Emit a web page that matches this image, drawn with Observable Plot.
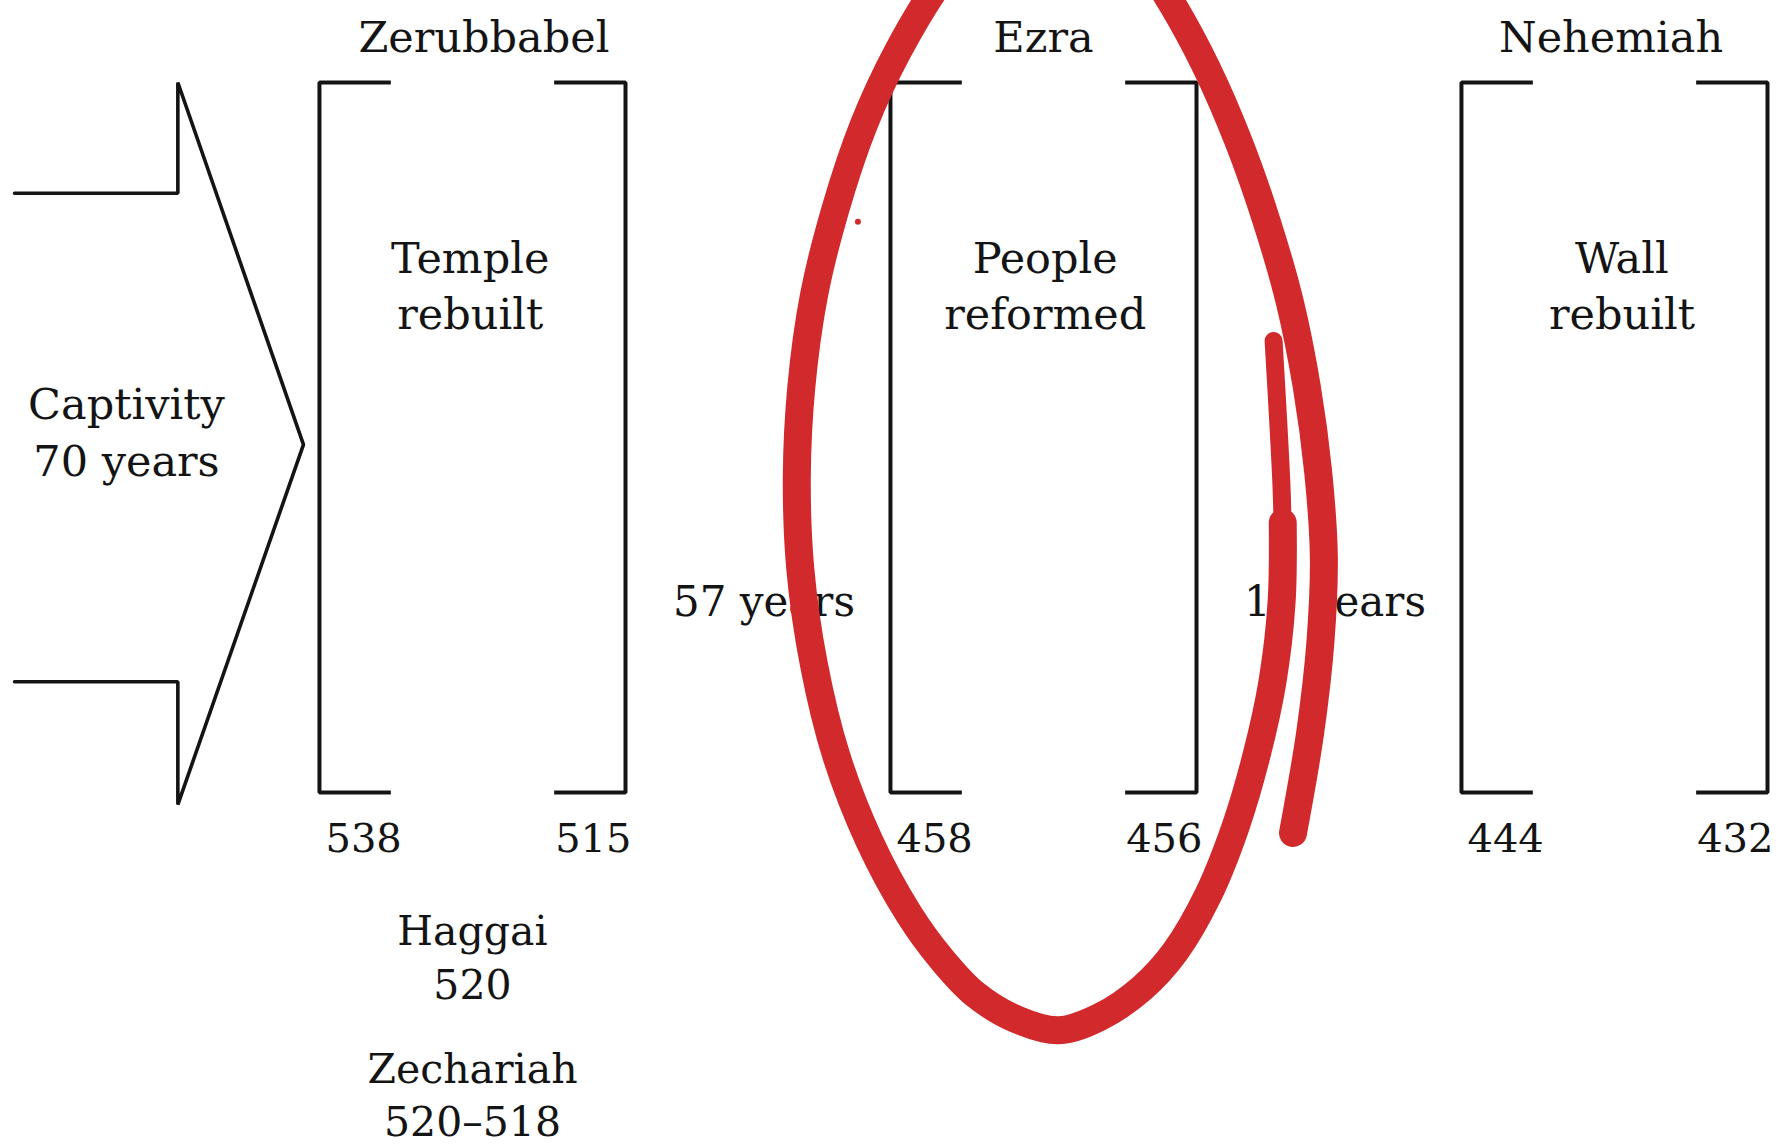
<!DOCTYPE html>
<html><head><meta charset="utf-8">
<script src="https://cdn.jsdelivr.net/npm/d3@7"></script>
<script src="https://cdn.jsdelivr.net/npm/@observablehq/plot@0.6"></script>
<style>html,body{margin:0;padding:0;background:#fff} svg{display:block}</style>
</head><body><div id="chart"></div>
<script>
// ---- data ----
const leaders = ["Zerubbabel", "Ezra", "Nehemiah"];
const works = ["Temple\nrebuilt", "People\nreformed", "Wall\nrebuilt"];
const startYears = [538, 458, 444];
const endYears = [515, 456, 432];
const captivityLabel = "Captivity\n70 years";
const prophets = ["Haggai\n520", "Zechariah\n520–518"];
const prophetSlot = [0, 0];
// hand-drawn red loop around Ezra (slot units)
const loopX = [1.419,1.417,1.401,1.373,1.336,1.288,1.230,1.172,1.099,1.027,0.954,0.880,0.820,0.765,0.695,0.637,0.598,0.574,0.568,0.576,0.598,0.635,0.685,0.745,0.824,0.934,1.063,1.162,1.222,1.286,1.342,1.391,1.431,1.461,1.481,1.491,1.485,1.467,1.437];
const loopY = [0.380,0.268,0.156,0.052,-0.049,-0.145,-0.225,-0.276,-0.316,-0.335,-0.320,-0.284,-0.233,-0.172,-0.068,0.052,0.180,0.316,0.444,0.572,0.700,0.820,0.940,1.044,1.148,1.251,1.267,1.187,1.115,1.020,0.916,0.804,0.692,0.572,0.452,0.332,0.212,0.084,-0.057];
// faint, thinner start of the loop's inner stroke
const loopStartX = [1.403, 1.411, 1.417, 1.419];
const loopStartY = [0.636, 0.524, 0.428, 0.364];
const speck = [{x: 0.675, y: 0.804}];

// ---- layout (styles / positions) ----
const HW = 0.268, SERIF = 0.125;
const ROW = {leader: 1.063, work: 0.717, year: -0.066, gap: 0.268, capt: 0.512};
const prophetRow = [-0.229, -0.422];
const leaderShift = [0.02, 0, -0.006];
const workShift = [-0.004, 0.003, 0.013];
const FONT = "DejaVu Serif";
const INK = "#141414", RED = "#d22a2c";

const periods = leaders.map((leader, i) => ({leader, work: works[i], start: startYears[i], end: endYears[i], slot: i}));
const gaps = periods.slice(1).map((p, i) => ({slot: i + 0.5, label: `${periods[i].end - p.start} years`}));

const brackets = periods.flatMap(p => {
  const l = p.slot - HW, r = p.slot + HW;
  return [
    {k: p.slot + "L", x: l + SERIF, y: 1}, {k: p.slot + "L", x: l, y: 1}, {k: p.slot + "L", x: l, y: 0}, {k: p.slot + "L", x: l + SERIF, y: 0},
    {k: p.slot + "R", x: r - SERIF, y: 1}, {k: p.slot + "R", x: r, y: 1}, {k: p.slot + "R", x: r, y: 0}, {k: p.slot + "R", x: r - SERIF, y: 0}
  ];
});

// captivity arrow
const AX0 = -0.802, AX1 = -0.516, ATIP = -0.296;
const arrow = [
  {x: AX0, y: 0.844}, {x: AX1, y: 0.844}, {x: AX1, y: 1.0}, {x: ATIP, y: 0.49},
  {x: AX1, y: -0.017}, {x: AX1, y: 0.156}, {x: AX0, y: 0.156}
];
const loop = loopX.map((x, i) => ({x, y: loopY[i]}));
const loopStart = loopStartX.map((x, i) => ({x, y: loopStartY[i]}));

const chart = Plot.plot({
  width: 1781, height: 1146,
  margin: 0,
  x: {domain: [-0.8266, 2.2925], axis: null},
  y: {domain: [-0.4986, 1.1155], axis: null},
  marks: [
    Plot.line(arrow, {x: "x", y: "y", stroke: INK, strokeWidth: 3.6, strokeLinejoin: "miter"}),
    Plot.line(brackets, {x: "x", y: "y", z: "k", stroke: INK, strokeWidth: 4, strokeLinejoin: "miter", strokeLinecap: "butt"}),
    Plot.text(periods, {x: (d, i) => d.slot + leaderShift[i], y: () => ROW.leader, text: "leader", fontFamily: FONT, fontSize: 43, fill: INK}),
    Plot.text(periods, {x: (d, i) => d.slot + workShift[i], y: () => ROW.work, text: "work", fontFamily: FONT, fontSize: 43, lineHeight: 1.3, fill: INK}),
    Plot.text(periods, {x: d => d.slot - HW, y: () => ROW.year, text: d => String(d.start), textAnchor: "start", dx: 6, fontFamily: FONT, fontSize: 40, fill: INK}),
    Plot.text(periods, {x: d => d.slot + HW, y: () => ROW.year, text: d => String(d.end), textAnchor: "end", dx: 6, fontFamily: FONT, fontSize: 40, fill: INK}),
    Plot.text(gaps, {x: "slot", y: () => ROW.gap, text: "label", dx: 6, fontFamily: FONT, fontSize: 42, fill: INK}),
    Plot.text([captivityLabel], {x: () => -0.606, y: () => ROW.capt, text: d => d, fontFamily: FONT, fontSize: 43, lineHeight: 1.32, fill: INK}),
    Plot.text(prophets, {x: (d, i) => prophetSlot[i], y: (d, i) => prophetRow[i], text: d => d, fontFamily: FONT, fontSize: 41, lineHeight: 1.3, fill: INK}),
    Plot.line(loopStart, {x: "x", y: "y", curve: "catmull-rom", stroke: RED, strokeWidth: 18, strokeLinecap: "round"}),
    Plot.line(loop, {x: "x", y: "y", curve: "catmull-rom", stroke: RED, strokeWidth: 28, strokeLinecap: "round", clip: true}),
    Plot.dot(speck, {x: "x", y: "y", r: 3, fill: RED, stroke: null})
  ]
});
document.getElementById("chart").append(chart);
</script>
</body></html>
